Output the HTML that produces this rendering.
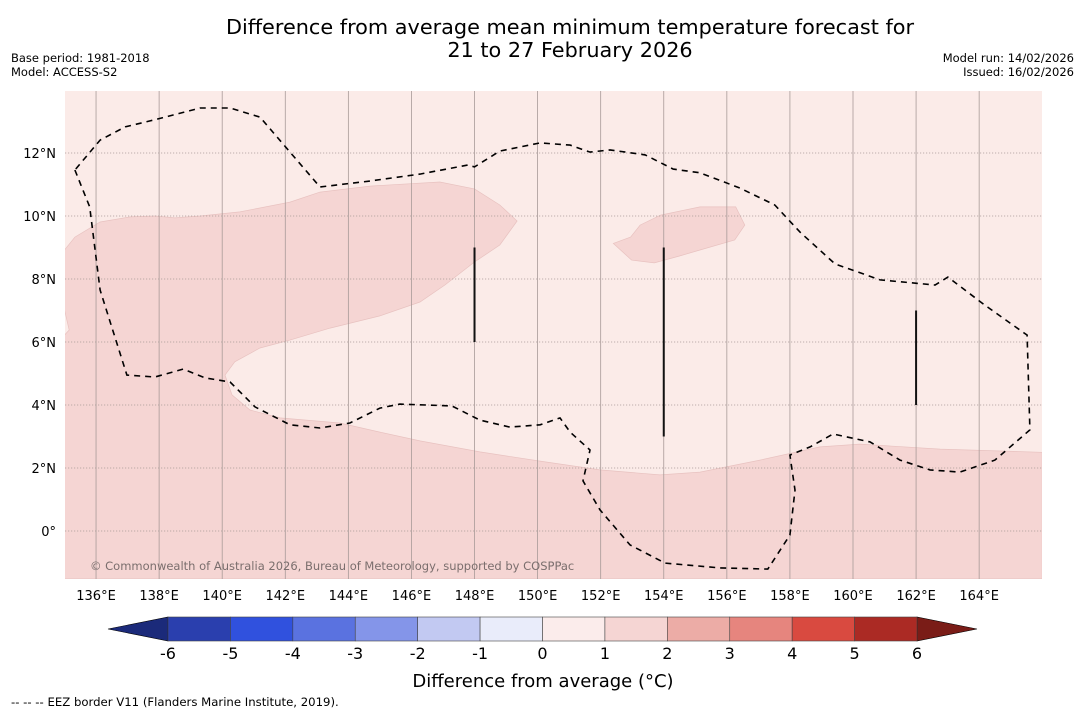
<!DOCTYPE html>
<html><head><meta charset="utf-8">
<style>
body{margin:0;background:#fff;font-family:"DejaVu Sans","Liberation Sans",sans-serif;}
svg text{font-family:"DejaVu Sans","Liberation Sans",sans-serif;}
</style></head>
<body>
<svg id="c" width="1085" height="713" xmlns="http://www.w3.org/2000/svg">
<rect width="1085" height="713" fill="#fff"/>
<text x="570" y="34" font-size="20.8" text-anchor="middle">Difference from average mean minimum temperature forecast for</text>
<text x="570" y="57" font-size="20.8" text-anchor="middle">21 to 27 February 2026</text>
<text x="11" y="62" font-size="11.5">Base period: 1981-2018</text>
<text x="11" y="76" font-size="11.5">Model: ACCESS-S2</text>
<text x="1074" y="62" font-size="11.5" text-anchor="end">Model run: 14/02/2026</text>
<text x="1074" y="76" font-size="11.5" text-anchor="end">Issued: 16/02/2026</text>
<g id="map"></g>
<g id="cbar"></g>
<text x="543" y="687" font-size="18" text-anchor="middle">Difference from average (°C)</text>
<text x="11" y="706" font-size="11.7">--  --  -- EEZ border V11 (Flanders Marine Institute, 2019).</text>
</svg>
<script>
const lonTicks=[136,138,140,142,144,146,148,150,152,154,156,158,160,162,164];
const latTicks=[0,2,4,6,8,10,12];
const cbarValues=[-6,-5,-4,-3,-2,-1,0,1,2,3,4,5,6];
const cbarColors=["#2a3fae","#3051de","#5a72e0","#8495e9","#c2c9f2","#e9ecfa","#fbeceb","#f5d5d3","#ecaca6","#e6857e","#d94a40","#ab2a24"];
const contourLon=[135,135.33,136.13,137.08,137.87,138.5,139.3,140.56,142.15,143.1,144.69,146.9,148,148.8,149.35,148.8,148,147.06,146.27,145,143.42,142.15,141.2,140.4,140.09,140.31,140.88,141.83,143.73,145,146.27,148.17,150.08,151.98,153.88,155.15,157.05,158.95,160.22,162.76,166,166,135,135,135.15,135];
const contourLat=[8.92,9.33,9.81,9.97,10.0,9.94,10.0,10.13,10.44,10.76,10.95,11.08,10.86,10.35,9.84,9.08,8.54,7.81,7.27,6.83,6.44,6.06,5.81,5.37,4.95,4.32,3.84,3.59,3.43,3.14,2.86,2.51,2.22,1.94,1.78,1.87,2.25,2.67,2.76,2.6,2.5,-1.52,-1.52,6.22,6.38,7.02];
const patchLon=[152.4,152.95,153.25,153.9,155.15,156.28,156.57,156.25,155.15,154.5,153.7,152.98];
const patchLat=[9.13,9.33,9.71,10.03,10.29,10.29,9.71,9.24,8.92,8.73,8.51,8.6];
const eezLon=[135.33,135.8,135.97,136.13,136.98,137.87,138.76,139.46,140.25,141.04,142.15,143.1,144.05,145,145.63,147.28,148.17,149.12,150.08,150.71,151.03,151.66,151.44,151.98,152.93,154.04,155.78,157.3,158,158.16,158,158.64,159.37,160.54,161.49,162.44,163.39,164.5,165.61,165.52,164.18,163.01,162.6,160.86,159.43,158.32,157.52,156.41,155.15,154.3,153.41,152.3,151.66,151.03,150.08,148.8,148,147.79,146.27,144.69,143.1,142.15,141.2,140.25,139.3,138.19,137.71,136.92,136.13,135.33];
const eezLat=[11.46,10.29,8.92,7.65,4.95,4.89,5.14,4.86,4.73,3.94,3.37,3.27,3.43,3.9,4.03,3.97,3.52,3.3,3.37,3.59,3.14,2.57,1.59,0.67,-0.44,-1.02,-1.17,-1.21,-0.13,1.3,2.41,2.67,3.08,2.83,2.25,1.94,1.87,2.25,3.21,6.22,7.17,8.06,7.81,7.97,8.48,9.49,10.35,10.89,11.37,11.49,11.94,12.1,12.03,12.25,12.32,12.06,11.56,11.62,11.33,11.11,10.92,12.03,13.14,13.43,13.43,13.14,13.02,12.83,12.41,11.46];
const markLon=[148,154,162];
const markTop=[9,9,7];
const markBot=[6,3,4];

const NS='http://www.w3.org/2000/svg';
const map=document.getElementById('map'),cb=document.getElementById('cbar');
const X0=65,X1=1042,Y0=91,Y1=579;
function px(lon){return 64.5+(lon-135)*31.54;}
function py(lat){return 531-lat*31.5;}
function mk(t,a,p){const e=document.createElementNS(NS,t);for(const k in a)e.setAttribute(k,a[k]);(p||map).appendChild(e);return e;}
function pts(lo,la){return lo.map((v,i)=>px(v).toFixed(1)+','+py(la[i]).toFixed(1)).join(' ');}

const defs=mk('defs',{});
const clip=mk('clipPath',{id:'mc'},defs);
mk('rect',{x:X0,y:Y0,width:X1-X0,height:Y1-Y0},clip);
const g=mk('g',{'clip-path':'url(#mc)'});
const bg=mk('rect',{x:X0,y:Y0,width:X1-X0,height:Y1-Y0,fill:'#fbebe8'},g);


const c1=mk('polygon',{points:pts(contourLon,contourLat),fill:'#f5d5d3',stroke:'#e8c2c0','stroke-width':0.7},g);


const c2=mk('polygon',{points:pts(patchLon,patchLat),fill:'#f5d5d3',stroke:'#e8c2c0','stroke-width':0.7},g);


lonTicks.forEach(l=>{
  const ln=mk('line',{x1:px(l),x2:px(l),y1:Y0,y2:Y1,stroke:'#a89a98','stroke-width':0.8},g);
  
  
  const t=mk('text',{x:px(l),y:Y1+21,'font-size':13,'text-anchor':'middle'});
  t.textContent=l+'°E';
  
  
});
latTicks.forEach(l=>{
  const ln=mk('line',{x1:X0,x2:X1,y1:py(l),y2:py(l),stroke:'#a89a98','stroke-width':0.8,'stroke-dasharray':'1.2,1.8'},g);
  
  
  const t=mk('text',{x:56,y:py(l)+5,'font-size':13,'text-anchor':'end'});
  t.textContent=l===0?'0°':l+'°N';
  
  
});
const ez=mk('polyline',{points:pts(eezLon,eezLat),fill:'none',stroke:'#000','stroke-width':1.6,'stroke-dasharray':'6,5'},g);


markLon.forEach((l,i)=>{
  const m=mk('line',{x1:px(l),x2:px(l),y1:py(markTop[i]),y2:py(markBot[i]),stroke:'#111','stroke-width':2},g);
  
  
});
const cr=mk('text',{x:90,y:570,'font-size':11.5,fill:'#7a6e6d'},g);
cr.textContent='© Commonwealth of Australia 2026, Bureau of Meteorology, supported by COSPPac';



const CB0=168,CB1=917,CY=617,CH=24,bw=(CB1-CB0)/cbarColors.length;
function cx(v){return CB0+(v-cbarValues[0])*bw;}
const lo=mk('polygon',{points:CB0+','+CY+' '+CB0+','+(CY+CH)+' 108,'+(CY+CH/2),fill:'#1b2a7a',stroke:'#000','stroke-width':0.6},cb);


const hi=mk('polygon',{points:CB1+','+CY+' '+CB1+','+(CY+CH)+' 977,'+(CY+CH/2),fill:'#7a1c17',stroke:'#000','stroke-width':0.6},cb);


cbarColors.forEach((c,i)=>{
  const r=mk('rect',{x:cx(cbarValues[i]),y:CY,width:bw,height:CH,fill:c,stroke:'#444','stroke-width':0.6},cb);
  
  
});
cbarValues.forEach(v=>{
  const t=mk('text',{x:cx(v),y:CY+CH+18,'font-size':16,'text-anchor':'middle'},cb);
  t.textContent=v;
  
  
});
</script>
</body></html>
